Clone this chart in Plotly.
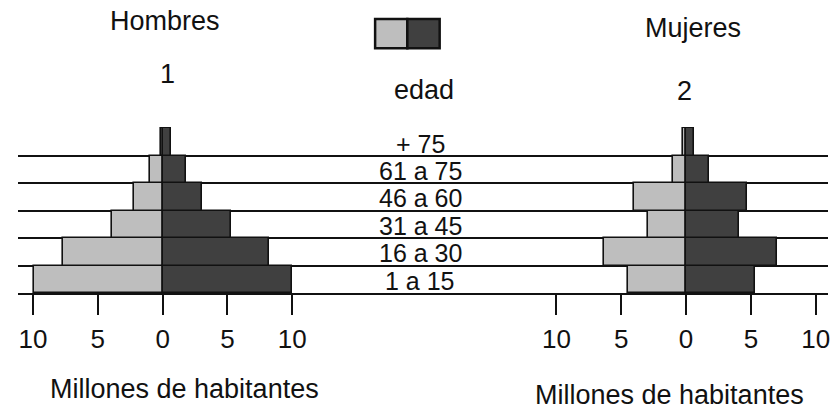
import plotly.graph_objects as go

# ---------------- data ----------------
ages = ["1 a 15", "16 a 30", "31 a 45", "46 a 60", "61 a 75", "+ 75"]
p1_light = [9.9, 7.7, 3.9, 2.2, 1.0, 0.15]
p1_dark = [10.0, 8.2, 5.3, 3.0, 1.8, 0.65]
p2_light = [4.5, 6.3, 2.9, 4.0, 1.0, 0.2]
p2_dark = [5.3, 7.0, 4.1, 4.7, 1.8, 0.65]
tick_vals = [-10, -5, 0, 5, 10]
tick_text = ["10", "5", "0", "5", "10"]

# ---------------- layout constants ----------------
W, H = 830, 409
ML, MR, MT, MB = 18, 0, 127, 116
SPLIT_PX = 420
PPU = 13.0          # pixels per million
ZERO1_PX = 163.0
ZERO2_PX = 687.7
LIGHT = "#bebebe"
DARK = "#404040"
FONT = "Liberation Sans, Arial, Helvetica, sans-serif"

PW = W - ML - MR
PH = H - MT - MB


def xp(px):
    return (px - ML) / PW


def yp(py):
    return (H - MB - py) / PH


split = xp(SPLIT_PX)
x1_range = [(ML - ZERO1_PX) / PPU, (SPLIT_PX - ZERO1_PX) / PPU]
x2_range = [(SPLIT_PX - ZERO2_PX) / PPU, (W - MR - ZERO2_PX) / PPU]
ypos = list(range(len(ages)))

fig = go.Figure()
line = dict(color="#111111", width=1.6)
fig.add_trace(go.Bar(y=ypos, x=[-v for v in p1_light], orientation="h", width=1,
                     marker=dict(color=LIGHT, line=line), xaxis="x", yaxis="y",
                     showlegend=False, hoverinfo="skip"))
fig.add_trace(go.Bar(y=ypos, x=p1_dark, orientation="h", width=1,
                     marker=dict(color=DARK, line=line), xaxis="x", yaxis="y",
                     showlegend=False, hoverinfo="skip"))
fig.add_trace(go.Bar(y=ypos, x=[-v for v in p2_light], orientation="h", width=1,
                     marker=dict(color=LIGHT, line=line), xaxis="x2", yaxis="y2",
                     showlegend=False, hoverinfo="skip"))
fig.add_trace(go.Bar(y=ypos, x=p2_dark, orientation="h", width=1,
                     marker=dict(color=DARK, line=line), xaxis="x2", yaxis="y2",
                     showlegend=False, hoverinfo="skip"))

grid_vals = [i - 0.5 for i in ypos]
yax = dict(range=[-0.5, len(ages) - 0.45], tickvals=grid_vals, showticklabels=False,
           showgrid=True, gridcolor="#111111", gridwidth=2, zeroline=False,
           ticks="", showline=False, fixedrange=True)
xax = dict(tickvals=tick_vals, ticktext=tick_text, ticks="outside", ticklen=20,
           tickwidth=2, tickcolor="#111111", showline=True, linecolor="#111111",
           linewidth=2, showgrid=False, zeroline=False, fixedrange=True,
           tickfont=dict(family=FONT, size=26, color="#111111"),
           ticklabelstandoff=2, ticklabeloverflow="allow")

fig.update_layout(
    width=W, height=H,
    margin=dict(l=ML, r=MR, t=MT, b=MB, pad=0),
    paper_bgcolor="white", plot_bgcolor="white",
    barmode="relative", bargap=0,
    font=dict(family=FONT, color="#111111"),
    xaxis=dict(xax, domain=[0, split], range=x1_range, anchor="y"),
    xaxis2=dict(xax, domain=[split, 1], range=x2_range, anchor="y2"),
    yaxis=dict(yax, anchor="x"),
    yaxis2=dict(yax, anchor="x2", matches="y"),
)

ann = []
for i, a in enumerate(ages):
    ann.append(dict(text=a, x=xp(421), y=i, xref="paper", yref="y",
                    xanchor="center", yanchor="middle", yshift=-1.5,
                    showarrow=False, font=dict(size=25)))


def label(text, px, py, size=27):
    return dict(text=text, x=xp(px), y=yp(py), xref="paper", yref="paper",
                xanchor="center", yanchor="middle", showarrow=False,
                font=dict(size=size))


ann += [
    label("Hombres", 165.5, 21),
    label("1", 168, 74),
    label("edad", 425, 90),
    label("Mujeres", 695, 28),
    label("2", 686.5, 91),
    label("Millones de habitantes", 185, 389),
    label("Millones de habitantes", 671, 395),
]
fig.update_layout(annotations=ann)

shapes = [
    dict(type="rect", xref="paper", yref="paper", x0=xp(376), x1=xp(408.3),
         y0=yp(48.3), y1=yp(19), fillcolor=LIGHT, line=dict(color="#111111", width=2.5)),
    dict(type="rect", xref="paper", yref="paper", x0=xp(408.3), x1=xp(440.7),
         y0=yp(48.3), y1=yp(19), fillcolor=DARK, line=dict(color="#111111", width=2.5)),
]
fig.update_layout(shapes=shapes)

fig.write_html("out.html", config={"displayModeBar": False})

# remove the default page margin so the 830x409 figure fills the window exactly
with open("out.html", "r", encoding="utf-8") as f:
    html = f.read()
html = html.replace("<head>", "<head><style>html,body{margin:0;padding:0;overflow:hidden;}</style>", 1)
with open("out.html", "w", encoding="utf-8") as f:
    f.write(html)
